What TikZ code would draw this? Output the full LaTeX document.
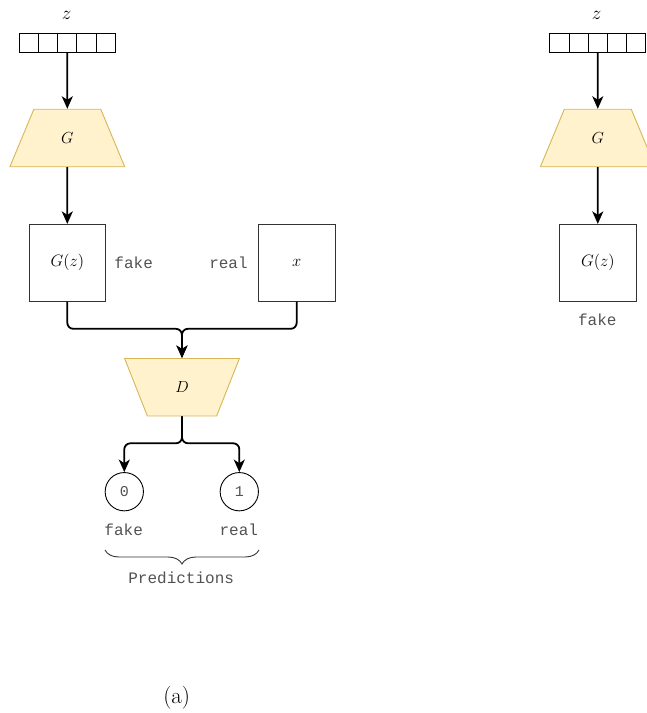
\RequirePackage{fix-cm}
\documentclass[tikz,border=0pt]{standalone}
\usepackage{fontspec}
\setmonofont{Liberation Mono}
\usepackage{tikz}
\usetikzlibrary{arrows.meta}
\usetikzlibrary{decorations.pathreplacing}
\usetikzlibrary{positioning,shapes.geometric,calc}
\definecolor{netfill}{RGB}{255,242,204}
\definecolor{netedge}{RGB}{214,182,86}
\definecolor{inkgray}{RGB}{51,51,51}

\tikzset{
  cell/.style={draw=black,line width=0.9pt,minimum width=19.2pt,minimum height=19.3pt,inner sep=0pt},
  net/.style={trapezium,trapezium stretches=true,trapezium angle=68,fill=netfill,draw=netedge,
    line width=0.9pt,minimum width=115pt,minimum height=57.5pt,inner sep=0pt,font=\fontsize{16}{18}\selectfont},
  sample/.style={draw=inkgray,line width=0.9pt,minimum width=76.7pt,minimum height=76.7pt,inner sep=0pt,
    font=\fontsize{16.5}{18}\selectfont},
  pred/.style={circle,draw=black,line width=0.9pt,minimum size=38.3pt,inner sep=0pt,
    font=\fontsize{15}{17}\selectfont\ttfamily,text=inkgray!85},
  ttlbl/.style={font=\fontsize{16}{18}\selectfont\ttfamily,text=inkgray!85,inner sep=0pt},
  mathlbl/.style={font=\fontsize{19}{21}\selectfont,inner sep=0pt},
  flow/.style={line width=1.8pt,-{Stealth[length=12.5pt,width=11pt,inset=3.5pt]}},
}

\begin{document}
\begin{tikzpicture}[x=1pt,y=-1pt]
    \useasboundingbox (0,0) rectangle (647,713);
    \clip (0,0) rectangle (647,713);

    % left: generator feeding the discriminator
    \node[mathlbl] (zlbl) at (66.5,15) {$z$};
    \foreach \i in {1,...,5}
      \node[cell] (z\i) at ({28.9+19.2*(\i-1)},42.7) {};
    \node[net] (g) at (67.3,138) {$G$};
    \node[sample] (gz) at (67.3,262.7) {$G(z)$};
    \node[ttlbl] (fakein) at (133.7,262.5) {fake};
    \node[ttlbl] (realin) at (228.5,262.5) {real};
    \node[sample] (xs) at (296.7,262.7) {$x$};
    \coordinate (merge) at (181.9,328.8);
    \node[net,shape border rotate=180] (d) at (182,387.2) {$D$};
    \coordinate (split) at (182,443.3);
    \node[pred] (zero) at (124.3,491.7) {0};
    \node[pred] (one) at (239.3,491.7) {1};
    \node[ttlbl] (fakeout) at (123.7,530) {fake};
    \node[ttlbl] (realout) at (238.8,530) {real};

    \draw[flow] (z3.south) -- (g.north);
    \draw[flow] (g.south) -- (gz.north);
    \draw[flow,rounded corners=6pt] (gz.south) |- (merge) -- (d.north);
    \draw[flow,rounded corners=6pt] (xs.south) |- (merge) -- (d.north);
    \draw[flow,rounded corners=6pt] (d.south) -- (split) -| (zero.north);
    \draw[flow,rounded corners=6pt] (d.south) -- (split) -| (one.north);

    \draw[decorate,decoration={brace,mirror,amplitude=14pt},line width=0.9pt,inkgray]
      (105,550) -- (259,550) coordinate[midway] (bracemid);
    \node[ttlbl] (predlbl) at (181.2,578) {Predictions};

    \node[font=\fontsize{23}{26}\selectfont,inner sep=0pt] (capa) at (176.7,698) {(a)};

    % right: generator alone
    \node[mathlbl] (zlbl2) at (596.7,15) {$z$};
    \foreach \i in {1,...,5}
      \node[cell] (zr\i) at ({559.4+19.2*(\i-1)},42.7) {};
    \node[net] (g2) at (597.8,138) {$G$};
    \node[sample] (gz2) at (597.8,262.7) {$G(z)$};
    \node[ttlbl] (fakeout2) at (597.3,320) {fake};

    \draw[flow] (zr3.south) -- (g2.north);
    \draw[flow] (g2.south) -- (gz2.north);
  \end{tikzpicture}
\end{document}
